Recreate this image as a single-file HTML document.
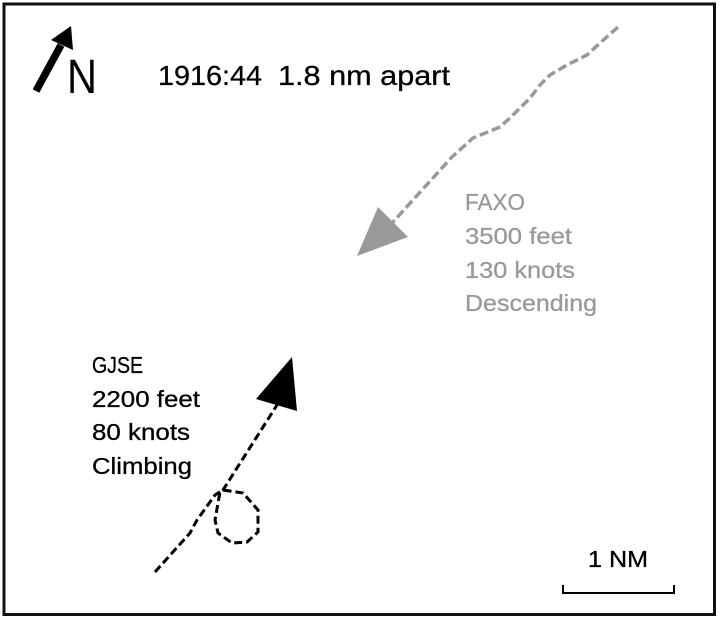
<!DOCTYPE html>
<html>
<head>
<meta charset="utf-8">
<style>
html,body{margin:0;padding:0;background:#fff;}
svg{display:block;}
text{font-family:"Liberation Sans",sans-serif;}
</style>
</head>
<body>
<svg width="720" height="622" viewBox="0 0 720 622" xmlns="http://www.w3.org/2000/svg">
  <rect x="0" y="0" width="720" height="622" fill="#fff"/>
  <rect x="4" y="4" width="710.5" height="610.5" fill="none" stroke="#111" stroke-width="3"/>

  <!-- North arrow -->
  <line x1="36" y1="91" x2="61" y2="45" stroke="#000" stroke-width="7.5"/>
  <polygon points="71,26 51,40 73,50" fill="#000"/>
  <text x="67" y="93" font-size="48" fill="#000" textLength="30" lengthAdjust="spacingAndGlyphs">N</text>

  <!-- title -->
  <text x="158" y="85" font-size="28" fill="#000" stroke="#000" stroke-width="0.3" textLength="104" lengthAdjust="spacingAndGlyphs">1916:44</text>
  <text x="278" y="85" font-size="28" fill="#000" stroke="#000" stroke-width="0.3" textLength="172" lengthAdjust="spacingAndGlyphs">1.8 nm apart</text>

  <!-- gray track -->
  <polyline points="618,27 600,43 587,55 567,65 550,75 540,85 530,98 510,118 500,127 473,138 452,157 393,222"
    fill="none" stroke="#999" stroke-width="3.5" stroke-dasharray="9,4"/>
  <polygon points="357,256 378,207 408,237" fill="#999"/>

  <g fill="#999" stroke="#999" stroke-width="0.3" font-size="23">
  <text x="465" y="210" textLength="60" lengthAdjust="spacingAndGlyphs">FAXO</text>
  <text x="465" y="244" textLength="107" lengthAdjust="spacingAndGlyphs">3500 feet</text>
  <text x="465" y="278" textLength="110" lengthAdjust="spacingAndGlyphs">130 knots</text>
  <text x="465" y="311" textLength="132" lengthAdjust="spacingAndGlyphs">Descending</text>
  </g>

  <!-- black track -->
  <polyline points="155,572 190,533 197,520 215,495 223,490 243,493 258,510 258,532 247,542 232,543 218,533 215,520 220,492 223,490 277,405"
    fill="none" stroke="#000" stroke-width="3" stroke-dasharray="8,4"/>
  <polygon points="292,357 256,399 297,411" fill="#000"/>

  <g fill="#000" stroke="#000" stroke-width="0.3" font-size="23">
  <text x="92" y="373" textLength="51" lengthAdjust="spacingAndGlyphs">GJSE</text>
  <text x="92" y="407" textLength="108" lengthAdjust="spacingAndGlyphs">2200 feet</text>
  <text x="92" y="440" textLength="98" lengthAdjust="spacingAndGlyphs">80 knots</text>
  <text x="92" y="474" textLength="100" lengthAdjust="spacingAndGlyphs">Climbing</text>

  <!-- scale bar -->
  <text x="588" y="567" textLength="60" lengthAdjust="spacingAndGlyphs">1 NM</text>
  </g>
  <polyline points="563,585 563,593 674,593 674,585" fill="none" stroke="#000" stroke-width="2"/>
</svg>
</body>
</html>
